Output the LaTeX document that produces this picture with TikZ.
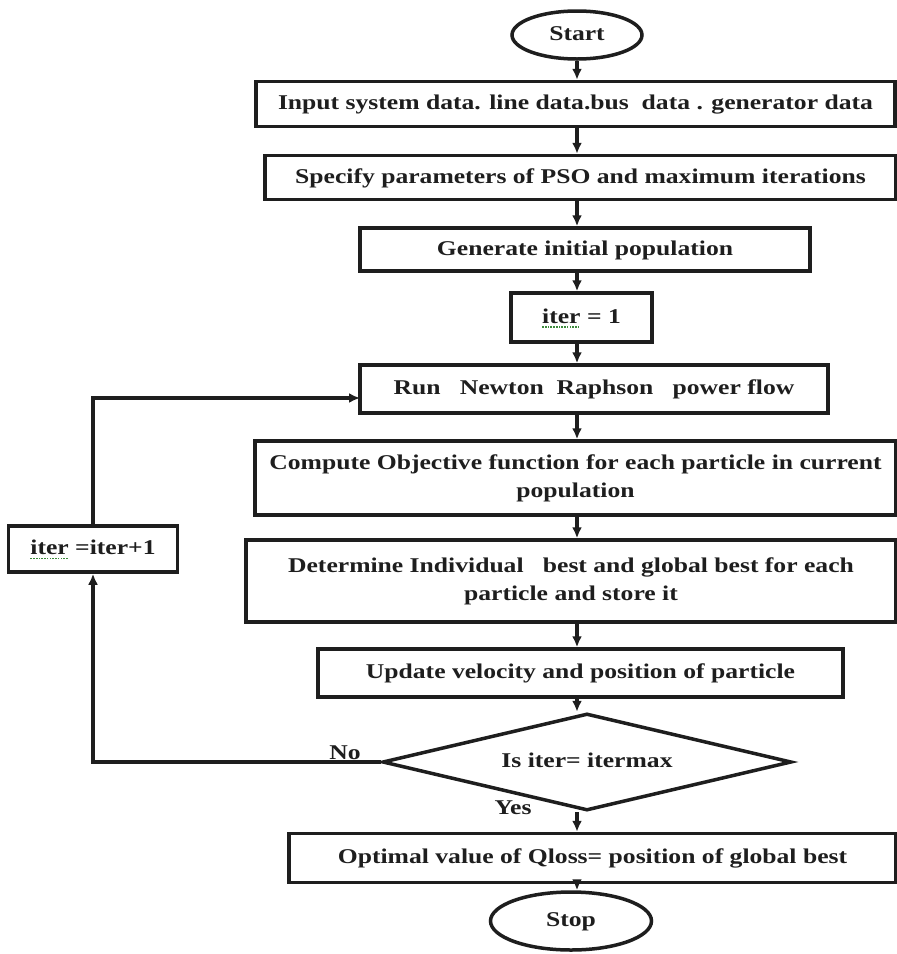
\documentclass[tikz,border=0pt]{standalone}
\usepackage{fontspec}
\usepackage{graphicx}
\setmainfont{Liberation Serif}
\usetikzlibrary{shapes.geometric,arrows.meta}
\definecolor{inkc}{HTML}{1E1E1E}
\definecolor{squig}{HTML}{3C8A3C}
\newcommand{\wt}[1]{\scalebox{1.22}[1]{\begin{tabular}{@{}c@{}}#1\end{tabular}}}
\newcommand{\sq}[1]{\setbox0\hbox{#1}\rlap{\raisebox{-4.5pt}{\textcolor{squig}{\hbox to \wd0{\xleaders\hbox{\rule{1.3pt}{1.3pt}\hspace{0.9pt}}\hfill}}}}\box0\relax}
\begin{document}
\begin{tikzpicture}[x=1pt,y=-1pt,
  every node/.style={text=inkc, font=\fontsize{21}{28}\selectfont\bfseries},
  box/.style={draw=inkc, line width=3.5pt, rectangle, inner sep=0pt},
  term/.style={draw=inkc, line width=3.5pt, ellipse, inner sep=0pt},
  cond/.style={draw=inkc, line width=3.5pt, diamond, aspect=4.2, inner sep=0pt},
  lbl/.style={inner sep=0pt},
  arr/.style={draw=inkc, line width=3.4pt, -{Latex[length=11pt,width=10pt]}}]
\useasboundingbox (0,0) rectangle (897,954);
\fill[white] (0,0) rectangle (897,954);

\node[term, minimum width=130pt, minimum height=48pt] (start) at (577,35) {\wt{Start}};
\node[box, minimum width=639pt, minimum height=45pt] (input) at (575.5,104) {\wt{Input system data. line data.bus\ \ data . generator data}};
\node[box, minimum width=631pt, minimum height=44pt] (spec) at (580.5,177.5) {\wt{Specify parameters of PSO and maximum iterations}};
\node[box, minimum width=450pt, minimum height=43pt] (gen) at (585,249.5) {\wt{Generate initial population}};
\node[box, minimum width=141pt, minimum height=49pt] (init) at (581.5,317.5) {\wt{\sq{iter} = 1}};
\node[box, minimum width=468pt, minimum height=48pt] (run) at (594,389) {\wt{Run\ \ \ Newton\ \ Raphson\ \ \ power flow}};
\node[box, minimum width=641pt, minimum height=74pt] (comp) at (575.5,478) {\wt{Compute Objective function for each particle in current\\population}};
\node[box, minimum width=650pt, minimum height=82pt] (det) at (571,581) {\wt{Determine Individual\ \ \ best and global best for each\\particle and store it}};
\node[box, minimum width=525pt, minimum height=48pt] (upd) at (580.5,673) {\wt{Update velocity and position of particle}};
\node[cond, minimum width=409pt, minimum height=97pt] (dia) at (587,762) {\wt{Is iter= itermax}};
\node[box, minimum width=607pt, minimum height=49pt] (opt) at (592.5,858) {\wt{Optimal value of Qloss= position of global best}};
\node[term, minimum width=161pt, minimum height=58pt] (stop) at (571,921) {\wt{Stop}};
\node[box, minimum width=169pt, minimum height=46pt] (inc) at (93,549) {\wt{\sq{iter} =iter+1}};

\node[lbl] (no) at (345,754) {\wt{No}};
\node[lbl] (yes) at (513,809) {\wt{Yes}};

\coordinate (col) at (577,0);
\coordinate (rin) at (360,398);

\draw[arr] (col |- start.south) -- (col |- input.north);
\draw[arr] (col |- input.south) -- (col |- spec.north);
\draw[arr] (col |- spec.south) -- (col |- gen.north);
\draw[arr] (col |- gen.south) -- (col |- init.north);
\draw[arr] (col |- init.south) -- (col |- run.north);
\draw[arr] (col |- run.south) -- (col |- comp.north);
\draw[arr] (col |- comp.south) -- (col |- det.north);
\draw[arr] (col |- det.south) -- (col |- upd.north);
\draw[arr] (col |- upd.south) -- (col |- dia.north);
\draw[arr] (col |- dia.south) -- (col |- opt.north);
\draw[arr] (col |- opt.south) -- (col |- stop.north);

\draw[arr] (dia.west) -| (inc.south);
\draw[arr] (inc.north) |- (rin);
\end{tikzpicture}
\end{document}
